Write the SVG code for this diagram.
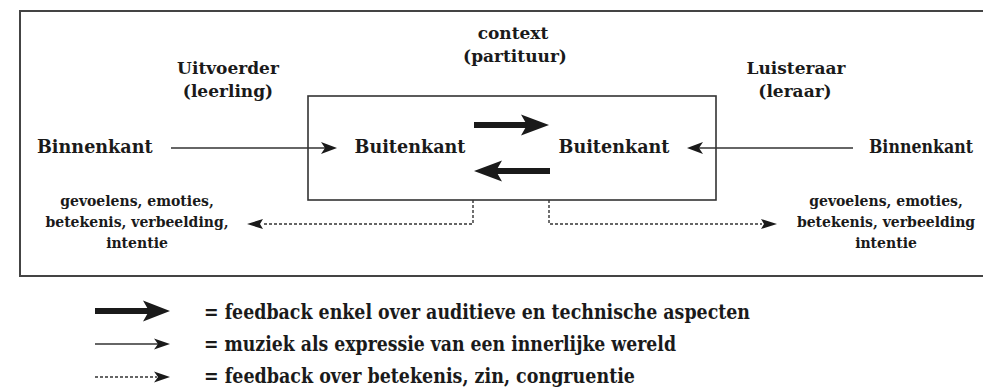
<svg xmlns="http://www.w3.org/2000/svg" width="983" height="388" viewBox="0 0 983 388">
<style>
.t{font-family:"DejaVu Serif","Liberation Serif",serif;font-weight:bold;fill:#1a1a1a}
.lbl{font-size:17px;text-anchor:middle}
.big{font-size:17.6px}
.sm{font-size:14px;text-anchor:middle}
.leg{font-family:"DejaVu Serif Condensed","DejaVu Serif",serif;font-weight:bold;fill:#1a1a1a;font-size:20px}
.thin{stroke:#333;stroke-width:1.6;fill:none}
.dash{stroke:#333;stroke-width:1.4;fill:none;stroke-dasharray:3 2}
.head{fill:#1a1a1a}
</style>
<rect width="983" height="388" fill="#fff"/>
<g id="frame"><rect x="20" y="11" width="1000" height="265" fill="none" stroke="#444" stroke-width="2"/></g>
<g id="context-box"><rect x="308" y="96" width="408" height="104" fill="none" stroke="#333" stroke-width="1.6"/></g>
<g id="context-label"><text class="t lbl" x="513" y="39">context</text><text class="t lbl" x="515" y="62">(partituur)</text></g>
<g id="uitvoerder"><text class="t lbl" x="228" y="74">Uitvoerder</text><text class="t lbl" x="228" y="97">(leerling)</text></g>
<g id="luisteraar"><text class="t lbl" x="796" y="74">Luisteraar</text><text class="t lbl" x="795" y="97">(leraar)</text></g>
<g id="binnenkant-links"><text class="t big" x="37" y="153">Binnenkant</text></g>
<g id="binnenkant-rechts"><text class="t big" x="869" y="153" textLength="104" lengthAdjust="spacingAndGlyphs">Binnenkant</text></g>
<g id="buitenkant-links"><text class="t big" x="410" y="153" text-anchor="middle">Buitenkant</text></g>
<g id="buitenkant-rechts"><text class="t big" x="614" y="153" text-anchor="middle">Buitenkant</text></g>
<g id="gevoelens-links"><text class="t sm" x="137" y="206">gevoelens, emoties,</text><text class="t sm" x="137" y="227">betekenis, verbeelding,</text><text class="t sm" x="137" y="248">intentie</text></g>
<g id="gevoelens-rechts"><text class="t sm" x="886" y="206">gevoelens, emoties,</text><text class="t sm" x="886" y="227">betekenis, verbeelding</text><text class="t sm" x="886" y="248">intentie</text></g>
<g id="connectors">
<path class="thin" d="M171 148H326"/>
<path class="head" d="M337 148L321 142L325 148L321 154Z"/>
<path class="thin" d="M853 148H698"/>
<path class="head" d="M687 148L703 142L699 148L703 154Z"/>
<rect x="474" y="122" width="54" height="6" class="head"/>
<path class="head" d="M549 125L521 114.5L527 125L521 135.5Z"/>
<rect x="496" y="168" width="54" height="6" class="head"/>
<path class="head" d="M474 171L502 160.5L496 171L502 181.5Z"/>
<path class="dash" d="M473 200V224H262"/>
<path class="head" d="M247 224L263 219L260 224L263 229Z"/>
<path class="dash" d="M549 200V224H762"/>
<path class="head" d="M777 224L761 219L764 224L761 229Z"/>
</g>
<g id="legend">
<rect x="95" y="308" width="54" height="6" class="head"/>
<path class="head" d="M170 311L143 300.5L149 311L143 321.5Z"/>
<path class="thin" d="M95 344H159"/>
<path class="head" d="M170 344L154 338.5L158 344L154 349.5Z"/>
<path class="dash" d="M95 377H157" stroke-dasharray="2 2"/>
<path class="head" d="M170 377L154 371.5L158 377L154 382.5Z"/>
<text class="leg" x="204" y="319" textLength="546" lengthAdjust="spacingAndGlyphs">= feedback enkel over auditieve en technische aspecten</text>
<text class="leg" x="204" y="351" textLength="472" lengthAdjust="spacingAndGlyphs">= muziek als expressie van een innerlijke wereld</text>
<text class="leg" x="204" y="383" textLength="431" lengthAdjust="spacingAndGlyphs">= feedback over betekenis, zin, congruentie</text>
</g>
</svg>
